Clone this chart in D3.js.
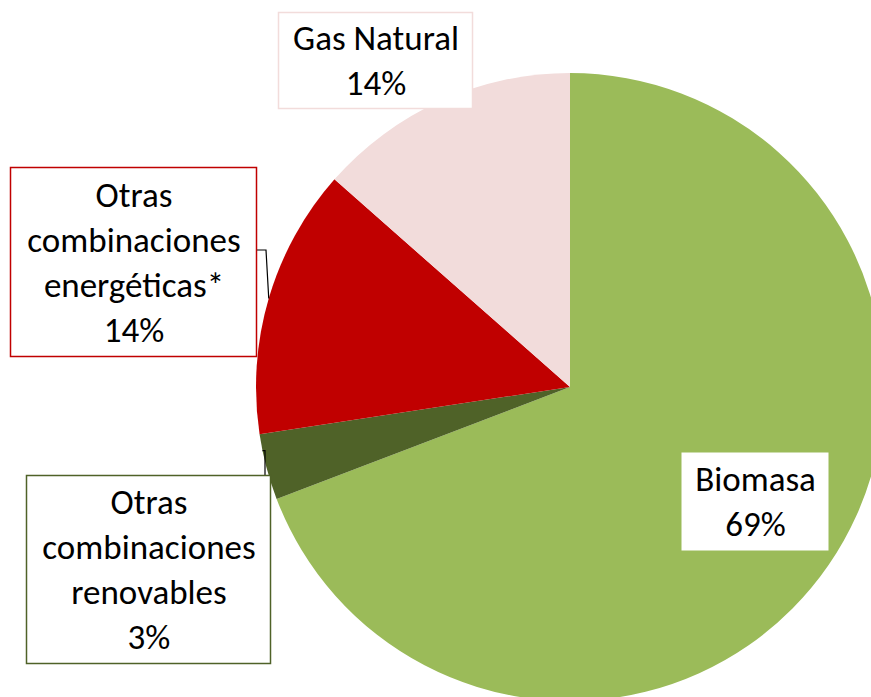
<!DOCTYPE html>
<html><head><meta charset="utf-8">
<script src="https://cdn.jsdelivr.net/npm/d3@7"></script>
<style>body{margin:0;background:#fff;}svg{display:block;}</style>
</head><body>
<script>
const categories = ["Biomasa", "Otras combinaciones renovables", "Otras combinaciones energéticas*", "Gas Natural"];
const values = [69.2, 3.4, 13.9, 13.5];
const labelLines = [["Biomasa"], ["Otras", "combinaciones", "renovables"], ["Otras", "combinaciones", "energéticas*"], ["Gas Natural"]];
const colors = ["#9bbb59", "#4f6228", "#c00000", "#f2dcdb"];

const W = 871, H = 697;
const cx = 570, cy = 387, R = 314;
const svg = d3.select("body").append("svg").attr("width", W).attr("height", H);

const pie = d3.pie().sort(null).value(d => d)(values);
const arc = d3.arc().innerRadius(0).outerRadius(R);
const g = svg.append("g").attr("transform", `translate(${cx},${cy})`);
g.selectAll("path").data(pie).join("path").attr("d", arc).attr("fill", (d, i) => colors[i]);

// label boxes layout
const boxes = [
  {x: 681, y: 452, w: 147, h: 98, stroke: "none", fill: "#fff"},
  {x: 26, y: 475, w: 244, h: 188, stroke: "#4f6228", fill: "#fff"},
  {x: 10, y: 167, w: 246, h: 189, stroke: "#c00000", fill: "#fff"},
  {x: 278, y: 12, w: 194, h: 96, stroke: "#f2dcdb", fill: "#fff"}
];
const fmt = v => Math.round(v) + "%";

function edge(i, frac) {
  const a = pie[i].startAngle + (pie[i].endAngle - pie[i].startAngle) * frac;
  return [cx + R * Math.sin(a), cy - R * Math.cos(a)];
}
const lead = svg.append("g").attr("fill", "none").attr("stroke", "#000").attr("stroke-width", 1.2);
{
  const p = edge(2, 0.5);
  lead.append("path").attr("d", `M${boxes[2].x + boxes[2].w},250 L266,250 L${p[0]},${p[1]}`);
  const q = edge(1, 0.75);
  lead.append("path").attr("d", `M265,${boxes[1].y} L265,${q[1]} L${q[0]},${q[1]}`);
}

const lh = 45;
boxes.forEach((b, i) => {
  const lines = labelLines[i].concat([fmt(values[i])]);
  const gg = svg.append("g");
  gg.append("rect").attr("x", b.x + 0.5).attr("y", b.y + 0.5).attr("width", b.w).attr("height", b.h)
    .attr("fill", b.fill).attr("stroke", b.stroke).attr("stroke-width", 1.5);
  const total = lines.length * lh;
  const top = b.y + (b.h - total) / 2;
  gg.selectAll("text").data(lines).join("text")
    .attr("x", b.x + b.w / 2 + 1)
    .attr("y", (d, k) => top + k * lh + lh / 2)
    .attr("dy", "0.36em")
    .attr("text-anchor", "middle")
    .attr("font-family", "Carlito, Lato, 'Open Sans', sans-serif")
    .attr("font-size", 35)
    .attr("fill", "#000")
    .text(d => d);
});
</script>
</body></html>
